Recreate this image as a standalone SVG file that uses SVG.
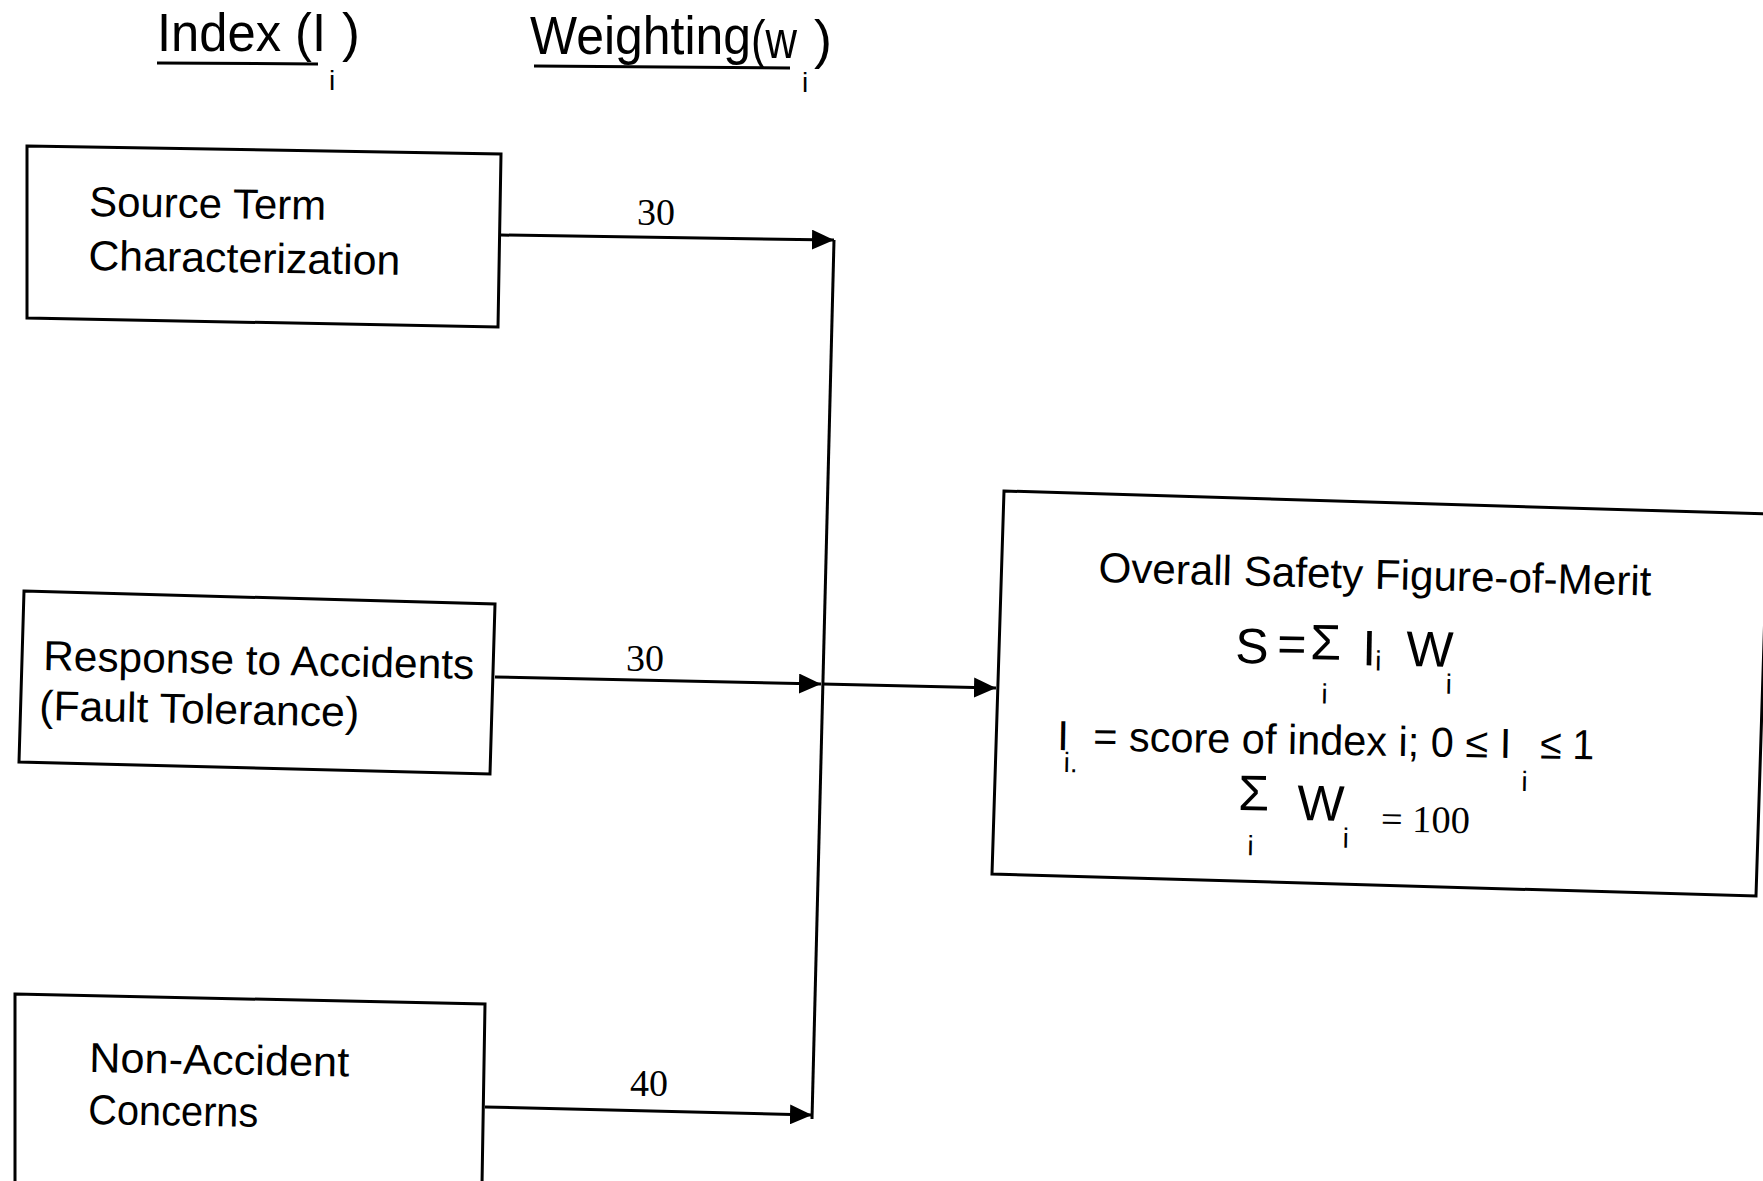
<svg xmlns="http://www.w3.org/2000/svg" width="1763" height="1181" viewBox="0 0 1763 1181">
<style>
.box{fill:none;stroke:#000;stroke-width:3}
.lbl{font-family:"Liberation Sans",Arial,sans-serif;font-size:42px;fill:#000}
.hdr{font-family:"Liberation Sans",Arial,sans-serif;font-size:54px;fill:#000}
.num{font-family:"Liberation Serif","Times New Roman",serif;font-size:38px;fill:#000}
.sub{font-family:"Liberation Sans",Arial,sans-serif;font-size:28px;fill:#000}
.math{font-family:"Liberation Sans",Arial,sans-serif;font-size:50px;fill:#000}
.conn{stroke:#000;stroke-width:3;fill:none}
.ul{stroke:#000;stroke-width:3}
</style>
<defs>
<marker id="arr" viewBox="0 0 22 20" markerWidth="22" markerHeight="20" refX="22" refY="10" orient="auto" markerUnits="userSpaceOnUse">
<path d="M0,0 L22,10 L0,20 z" fill="#000"/>
</marker>
</defs>
<g id="headers">
<text class="hdr" x="157" y="51" textLength="169" lengthAdjust="spacingAndGlyphs">Index (I</text>
<text class="sub" x="329" y="90">i</text>
<text class="hdr" x="342" y="51" font-size="46">)</text>
<line class="ul" x1="157" y1="63" x2="318" y2="64"/>
<text class="hdr" x="530" y="54" textLength="221" lengthAdjust="spacingAndGlyphs">Weighting</text>
<text class="hdr" x="751" y="58" font-size="40" textLength="46" lengthAdjust="spacingAndGlyphs">(w</text>
<text class="sub" x="802" y="92">i</text>
<text class="hdr" x="814" y="58" font-size="40">)</text>
<line class="ul" x1="534" y1="66" x2="790" y2="68"/>
</g>
<g id="node-source">
<polygon class="box" points="27,146 501,154 498,327 27,318"/>
<g transform="rotate(0.9 89 216)">
<text class="lbl" x="89" y="216" textLength="237" lengthAdjust="spacingAndGlyphs">Source Term</text>
<text class="lbl" x="89" y="270" textLength="312" lengthAdjust="spacingAndGlyphs">Characterization</text>
</g>
</g>
<g id="node-response">
<polygon class="box" points="24,591 495,604 490,774 19,762"/>
<g transform="rotate(1.2 43 670)">
<text class="lbl" x="43" y="670" textLength="431" lengthAdjust="spacingAndGlyphs">Response to Accidents</text>
<text class="lbl" x="40" y="720" textLength="320" lengthAdjust="spacingAndGlyphs">(Fault Tolerance)</text>
</g>
</g>
<g id="node-nonaccident">
<polygon class="box" points="15,994 485,1004 482,1185 15,1185"/>
<g transform="rotate(1 89 1072)">
<text class="lbl" x="89" y="1072" textLength="260" lengthAdjust="spacingAndGlyphs">Non-Accident</text>
<text class="lbl" x="89" y="1124" textLength="170" lengthAdjust="spacingAndGlyphs">Concerns</text>
</g>
</g>
<g id="node-overall">
<polygon class="box" points="1004,491 1768,514 1756,896 992,874"/>
<g transform="rotate(1.4 1098 589)">
<text class="lbl" x="1098" y="582" textLength="553" lengthAdjust="spacingAndGlyphs">Overall Safety Figure-of-Merit</text>
</g>
<g transform="rotate(1 1235 663)">
<text class="math" x="1235" y="663">S</text>
<text class="math" x="1277" y="660" font-size="44">=</text>
<text class="math" x="1310" y="658" font-size="40" font-family="Liberation Serif">Σ</text>
<text class="sub" x="1322" y="702">i</text>
<text class="math" x="1362" y="663">I</text>
<text class="sub" x="1375" y="668">i</text>
<text class="math" x="1406" y="663">W</text>
<text class="sub" x="1446" y="690">i</text>
</g>
<g transform="rotate(1 1057 750)">
<text class="lbl" x="1057" y="750" font-size="44">I</text>
<text class="sub" x="1064" y="772">i.</text>
<text class="lbl" x="1093" y="750" font-size="44" textLength="418" lengthAdjust="spacingAndGlyphs">= score of index i; 0 ≤ I</text>
<text class="sub" x="1522" y="783">i</text>
<text class="lbl" x="1540" y="750" font-size="44" textLength="54" lengthAdjust="spacingAndGlyphs">≤ 1</text>
</g>
<g transform="rotate(1 1240 815)">
<text class="math" x="1238" y="810" font-size="40" font-family="Liberation Serif">Σ</text>
<text class="sub" x="1248" y="855">i</text>
<text class="math" x="1297" y="819">W</text>
<text class="sub" x="1343" y="846">i</text>
<text class="num" x="1381" y="829" textLength="89" lengthAdjust="spacingAndGlyphs">= 100</text>
</g>
</g>
<g id="connectors">
<path class="conn" d="M501,235 L834,240" marker-end="url(#arr)"/>
<path class="conn" d="M834,240 L812,1119"/>
<path class="conn" d="M495,677 L821,684" marker-end="url(#arr)"/>
<path class="conn" d="M822,684 L996,688" marker-end="url(#arr)"/>
<path class="conn" d="M485,1107 L812,1115" marker-end="url(#arr)"/>
<text class="num" x="637" y="225" textLength="38" lengthAdjust="spacingAndGlyphs">30</text>
<text class="num" x="626" y="671" textLength="38" lengthAdjust="spacingAndGlyphs">30</text>
<text class="num" x="630" y="1096" textLength="38" lengthAdjust="spacingAndGlyphs">40</text>
</g>
</svg>
